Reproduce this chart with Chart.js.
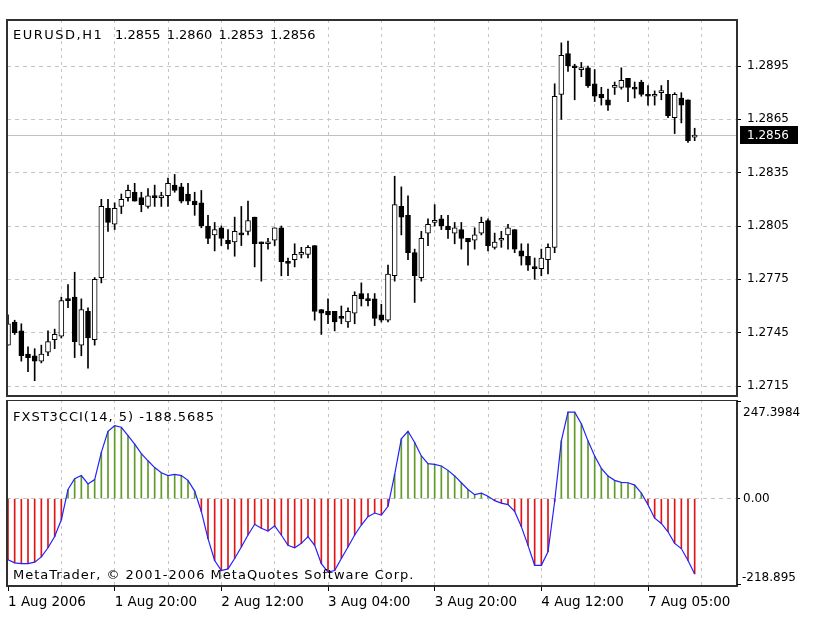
<!DOCTYPE html>
<html>
<head>
<meta charset="utf-8">
<script src="https://cdn.jsdelivr.net/npm/chart.js@4.4.1/dist/chart.umd.min.js"></script>
<style>
  html, body { margin: 0; padding: 0; background: #fff; }
  #wrap { position: relative; width: 825px; height: 622px; background: #fff; }
  canvas { position: absolute; left: 0; }
  #price-chart { top: 0; }
  #cci-chart { top: 400px; }
</style>
</head>
<body>
<div id="wrap">
  <canvas id="price-chart" width="825" height="400"></canvas>
  <canvas id="cci-chart" width="825" height="222"></canvas>
</div>
<script>
// EURUSD H1 bars, oldest first (bar index = position on the time axis)
const opens = [
  1.2738, 1.2751, 1.2746, 1.2733, 1.2732, 1.2729, 1.2734, 1.2741, 1.2743, 1.2764,
  1.2765, 1.2738, 1.2757, 1.2741, 1.2776, 1.2815, 1.2806, 1.2816, 1.2821, 1.2824,
  1.2821, 1.2816, 1.2822, 1.2821, 1.2822, 1.2828, 1.2827, 1.2823, 1.2819, 1.2818,
  1.2805, 1.2800, 1.2804, 1.2797, 1.2796, 1.2801, 1.2802, 1.2810, 1.2796, 1.2795,
  1.2797, 1.2804, 1.2785, 1.2786, 1.2789, 1.2789, 1.2794, 1.2758, 1.2757, 1.2757,
  1.2754, 1.2751, 1.2756, 1.2767, 1.2764, 1.2764, 1.2755, 1.2752, 1.2777, 1.2816,
  1.2811, 1.2790, 1.2776, 1.2801, 1.2807, 1.2809, 1.2805, 1.2801, 1.2803, 1.2798,
  1.2797, 1.2801, 1.2808, 1.2793, 1.2797, 1.2800, 1.2803, 1.2791, 1.2788, 1.2782,
  1.2781, 1.2786, 1.2793, 1.2879, 1.2902, 1.2895, 1.2893, 1.2894, 1.2885, 1.2879,
  1.2876, 1.2883, 1.2883, 1.2888, 1.2883, 1.2886, 1.2879, 1.2878, 1.2880, 1.2879,
  1.2866, 1.2877, 1.2876, 1.2855
];
const highs = [
  1.2755, 1.2752, 1.2750, 1.2737, 1.2736, 1.2738, 1.2746, 1.2747, 1.2765, 1.2772,
  1.2779, 1.2764, 1.2759, 1.2776, 1.2820, 1.2820, 1.2818, 1.2823, 1.2828, 1.2829,
  1.2824, 1.2826, 1.2828, 1.2824, 1.2832, 1.2834, 1.2829, 1.2829, 1.2824, 1.2825,
  1.2811, 1.2807, 1.2805, 1.2803, 1.2810, 1.2816, 1.2819, 1.2810, 1.2796, 1.2798,
  1.2804, 1.2805, 1.2787, 1.2795, 1.2793, 1.2794, 1.2794, 1.2758, 1.2764, 1.2757,
  1.2760, 1.2759, 1.2768, 1.2773, 1.2767, 1.2767, 1.2761, 1.2783, 1.2833, 1.2827,
  1.2822, 1.2792, 1.2802, 1.2809, 1.2817, 1.2811, 1.2811, 1.2807, 1.2807, 1.2798,
  1.2804, 1.2810, 1.2809, 1.2801, 1.2802, 1.2806, 1.2803, 1.2795, 1.2795, 1.2787,
  1.2792, 1.2795, 1.2885, 1.2908, 1.2909, 1.2896, 1.2897, 1.2895, 1.2893, 1.2883,
  1.2882, 1.2886, 1.2894, 1.2888, 1.2886, 1.2887, 1.2884, 1.2881, 1.2884, 1.2887,
  1.2880, 1.2880, 1.2876, 1.2860
];
const lows = [
  1.2738, 1.2744, 1.2729, 1.2723, 1.2718, 1.2728, 1.2732, 1.2736, 1.2742, 1.2759,
  1.2731, 1.2732, 1.2725, 1.2738, 1.2773, 1.2802, 1.2803, 1.2812, 1.2819, 1.2819,
  1.2813, 1.2815, 1.2816, 1.2816, 1.2816, 1.2824, 1.2818, 1.2817, 1.2811, 1.2804,
  1.2795, 1.2791, 1.2794, 1.2792, 1.2788, 1.2794, 1.2800, 1.2782, 1.2774, 1.2792,
  1.2794, 1.2777, 1.2777, 1.2782, 1.2787, 1.2787, 1.2752, 1.2744, 1.2750, 1.2746,
  1.2750, 1.2748, 1.2750, 1.2760, 1.2760, 1.2749, 1.2751, 1.2751, 1.2774, 1.2800,
  1.2786, 1.2762, 1.2774, 1.2794, 1.2805, 1.2803, 1.2798, 1.2795, 1.2792, 1.2783,
  1.2792, 1.2800, 1.2791, 1.2792, 1.2793, 1.2792, 1.2790, 1.2783, 1.2780, 1.2775,
  1.2777, 1.2778, 1.2790, 1.2865, 1.2892, 1.2876, 1.2889, 1.2883, 1.2875, 1.2873,
  1.2870, 1.2879, 1.2882, 1.2875, 1.2877, 1.2878, 1.2873, 1.2873, 1.2876, 1.2866,
  1.2857, 1.2863, 1.2852, 1.2853
];
const closes = [
  1.2750, 1.2745, 1.2732, 1.2731, 1.2729, 1.2733, 1.2740, 1.2744, 1.2763, 1.2763,
  1.2740, 1.2758, 1.2742, 1.2775, 1.2816, 1.2807, 1.2815, 1.2820, 1.2825, 1.2819,
  1.2817, 1.2822, 1.2821, 1.2822, 1.2829, 1.2825, 1.2819, 1.2819, 1.2817, 1.2805,
  1.2798, 1.2803, 1.2798, 1.2795, 1.2802, 1.2800, 1.2808, 1.2795, 1.2795, 1.2796,
  1.2804, 1.2785, 1.2784, 1.2789, 1.2790, 1.2793, 1.2757, 1.2756, 1.2755, 1.2751,
  1.2753, 1.2757, 1.2766, 1.2764, 1.2763, 1.2753, 1.2752, 1.2778, 1.2817, 1.2810,
  1.2790, 1.2777, 1.2798, 1.2806, 1.2808, 1.2805, 1.2803, 1.2804, 1.2798, 1.2796,
  1.2800, 1.2807, 1.2794, 1.2796, 1.2798, 1.2804, 1.2792, 1.2788, 1.2783, 1.2781,
  1.2787, 1.2793, 1.2878, 1.2901, 1.2895, 1.2894, 1.2894, 1.2884, 1.2878, 1.2877,
  1.2873, 1.2884, 1.2887, 1.2883, 1.2882, 1.2879, 1.2878, 1.2879, 1.2880, 1.2867,
  1.2879, 1.2873, 1.2853, 1.2856
];
// FXST3CCI(14, 5) per bar
const cci = [
  -153, -161, -163, -163, -159, -146, -123, -95, -53, 23,
  50, 58, 37, 48, 116, 169, 183, 179, 158, 137,
  113, 95, 78, 65, 58, 61, 58, 46, 19, -32,
  -100, -155, -180, -176, -150, -121, -91, -64, -74, -81,
  -68, -91, -117, -123, -112, -95, -117, -163, -184, -180,
  -150, -121, -91, -66, -45, -36, -41, -19, 61, 150,
  169, 141, 107, 88, 86, 82, 71, 57, 40, 23,
  10, 14, 6, -5, -11, -15, -32, -70, -117, -167,
  -167, -133, -7, 145, 217, 217, 188, 145, 107, 76,
  57, 46, 41, 40, 34, 14, -15, -49, -62, -83,
  -112, -125, -155, -188.57
];

const priceTicks = [1.2715, 1.2745, 1.2775, 1.2805, 1.2835, 1.2865, 1.2895];
const gridBars = [0, 8, 16, 24, 32, 40, 48, 56, 64, 72, 80, 88, 96, 104];
const timeTickBars = [0, 16, 32, 48, 64, 80, 96];
const timeTickLabels = ['1 Aug 2006', '1 Aug 20:00', '2 Aug 12:00', '3 Aug 04:00', '3 Aug 20:00', '4 Aug 12:00', '7 Aug 05:00'];
const lastPrice = 1.2856;
const cciTop = 247.3984;
const cciBottom = -218.895;

const symbolName = 'EURUSD,H1';
const barQuote = ['1.2855', '1.2860', '1.2853', '1.2856'];
const cciTitle = 'FXST3CCI(14, 5) -188.5685';
const copyright = 'MetaTrader, \u00a9 2001-2006 MetaQuotes Software Corp.';

Chart.defaults.font.family = '"DejaVu Sans", sans-serif';
Chart.defaults.font.size = 12;
Chart.defaults.color = '#000';

const GRID = '#c4c4c4';
const FRAME = '#303030';
const TEXT_FONT = '13px "DejaVu Sans"';

function noPad(s) {
  s.paddingTop = 0; s.paddingBottom = 0; s.paddingLeft = 0; s.paddingRight = 0;
}

function timeAxis(withLabels) {
  return {
    type: 'linear',
    min: -0.15,
    max: 109.35,
    offset: false,
    afterBuildTicks: s => { s.ticks = gridBars.map(v => ({ value: v })); },
    afterFit: s => { s.height = withLabels ? 36 : 0; noPad(s); },
    border: { display: false, dash: [3, 4] },
    grid: {
      offset: false,
      color: c => (c.tick && c.tick.value === 0) ? 'rgba(0,0,0,0)' : GRID,
      drawTicks: withLabels,
      tickLength: 5,
      tickBorderDash: [],
      tickColor: c => (c.tick && timeTickBars.includes(c.tick.value)) ? '#000' : 'rgba(0,0,0,0)'
    },
    ticks: {
      display: withLabels,
      autoSkip: false,
      maxRotation: 0,
      align: 'start',
      padding: 3,
      font: { size: 13.5 },
      callback: v => {
        const k = timeTickBars.indexOf(v);
        return k < 0 ? '' : timeTickLabels[k];
      }
    }
  };
}

function drawFrame(chart) {
  const { ctx, chartArea: a } = chart;
  ctx.save();
  ctx.strokeStyle = FRAME;
  ctx.lineWidth = 2;
  ctx.strokeRect(a.left, a.top, a.right - a.left, a.bottom - a.top);
  ctx.restore();
}

const pricePanel = {
  id: 'pricePanel',
  beforeDatasetsDraw(chart) {
    const { ctx, chartArea: a, scales: { y } } = chart;
    const py = Math.round(y.getPixelForValue(lastPrice)) + 0.5;
    ctx.save();
    ctx.strokeStyle = '#c0c0c0';
    ctx.lineWidth = 1;
    ctx.beginPath();
    ctx.moveTo(a.left, py);
    ctx.lineTo(a.right, py);
    ctx.stroke();
    ctx.restore();
  },
  afterDraw(chart) {
    const { ctx, chartArea: a, scales: { y } } = chart;
    drawFrame(chart);
    ctx.save();
    ctx.font = TEXT_FONT;
    ctx.fillStyle = '#000';
    ctx.textBaseline = 'alphabetic';
    ctx.letterSpacing = '1.5px';
    ctx.fillText(symbolName, 13, 38.5);
    ctx.letterSpacing = '0px';
    barQuote.forEach((q, k) => ctx.fillText(q, 115 + k * 51.7, 38.5));
    // current price tag on the price scale
    const py = Math.round(y.getPixelForValue(lastPrice));
    ctx.font = '12px "DejaVu Sans"';
    ctx.fillStyle = '#000';
    ctx.fillRect(a.right + 3, py - 9, 58, 18);
    ctx.fillStyle = '#fff';
    ctx.textBaseline = 'middle';
    ctx.fillText(lastPrice.toFixed(4), a.right + 10, py + 1);
    ctx.restore();
  }
};

const cciPanel = {
  id: 'cciPanel',
  afterDraw(chart) {
    const { ctx, chartArea: a } = chart;
    drawFrame(chart);
    ctx.save();
    ctx.font = TEXT_FONT;
    ctx.fillStyle = '#000';
    ctx.textBaseline = 'alphabetic';
    ctx.letterSpacing = '1px';
    ctx.fillText(cciTitle, 13, a.top + 21);
    ctx.fillText(copyright, 13, a.bottom - 7);
    ctx.letterSpacing = '0px';
    ctx.font = '12px "DejaVu Sans"';
    ctx.fillText(String(cciTop), a.right + 6, a.top + 16);
    ctx.fillText(String(cciBottom), a.right + 5, a.bottom - 5);
    ctx.strokeStyle = '#000';
    ctx.lineWidth = 1;
    ctx.beginPath();
    ctx.moveTo(a.right, a.top + 1.5); ctx.lineTo(a.right + 4, a.top + 1.5);
    ctx.moveTo(a.right, a.bottom - 1.5); ctx.lineTo(a.right + 4, a.bottom - 1.5);
    ctx.stroke();
    ctx.restore();
  }
};

const baseOptions = {
  responsive: false,
  animation: false,
  events: [],
  plugins: { legend: { display: false }, tooltip: { enabled: false } }
};

new Chart(document.getElementById('price-chart').getContext('2d'), {
  type: 'bar',
  data: {
    datasets: [
      {
        label: 'Range',
        data: lows.map((l, i) => ({ x: i, y: [l, highs[i]] })),
        backgroundColor: '#000',
        barThickness: 1,
        grouped: false,
        order: 2
      },
      {
        label: 'Body',
        data: opens.map((o, i) => ({ x: i, y: [o, closes[i]] })),
        backgroundColor: opens.map((o, i) => closes[i] >= o ? '#fff' : '#000'),
        borderColor: '#000',
        borderWidth: 1,
        borderSkipped: false,
        barThickness: 5,
        minBarLength: 2,
        grouped: false,
        order: 1
      }
    ]
  },
  options: {
    ...baseOptions,
    layout: { padding: { left: 7, right: 0, top: 20, bottom: 4 } },
    scales: {
      x: timeAxis(false),
      y: {
        position: 'right',
        min: 1.270938,
        max: 1.292088,
        afterBuildTicks: s => { s.ticks = priceTicks.map(v => ({ value: v })); },
        afterFit: s => { s.width = 88; noPad(s); },
        border: { display: false, dash: [4, 4] },
        grid: { color: GRID, tickColor: '#000', tickLength: 4, tickBorderDash: [] },
        ticks: { padding: 6, callback: v => v.toFixed(4) }
      }
    }
  },
  plugins: [pricePanel]
});

new Chart(document.getElementById('cci-chart').getContext('2d'), {
  type: 'bar',
  data: {
    datasets: [
      {
        type: 'line',
        label: 'CCI',
        data: cci.map((v, i) => ({ x: i, y: v })),
        borderColor: '#2222ff',
        borderWidth: 1.2,
        pointRadius: 0,
        tension: 0,
        order: 1
      },
      {
        label: 'Histogram',
        data: cci.map((v, i) => ({ x: i, y: v })),
        backgroundColor: cci.map(v => v >= 0 ? '#5e9a26' : '#e01414'),
        barThickness: 1,
        grouped: false,
        order: 2
      }
    ]
  },
  options: {
    ...baseOptions,
    layout: { padding: { left: 7, right: 0, top: 0, bottom: 0 } },
    scales: {
      x: timeAxis(true),
      y: {
        position: 'right',
        min: cciBottom,
        max: cciTop,
        afterBuildTicks: s => { s.ticks = [{ value: 0 }]; },
        afterFit: s => { s.width = 88; noPad(s); },
        border: { display: false, dash: [4, 4] },
        grid: { color: GRID, tickColor: '#000', tickLength: 3, tickBorderDash: [] },
        ticks: { padding: 3, callback: v => v.toFixed(2) }
      }
    }
  },
  plugins: [cciPanel]
});
</script>
</body>
</html>
